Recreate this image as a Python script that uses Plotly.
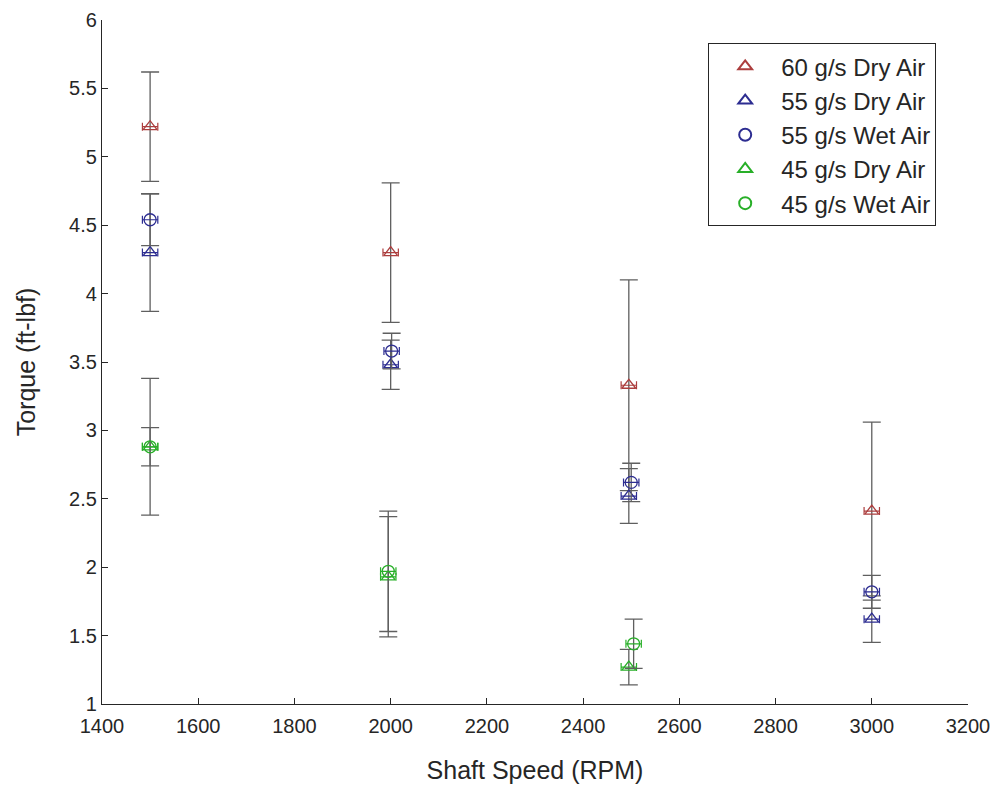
import plotly.graph_objects as go

# Data
dry60_x = [1500, 2000, 2495, 3000]
dry60_y = [5.22, 4.30, 3.33, 2.41]
dry60_e = [0.40, 0.51, 0.77, 0.65]

dry55_x = [1500, 2000, 2495, 3000]
dry55_y = [4.30, 3.48, 2.52, 1.62]
dry55_e = [0.43, 0.18, 0.20, 0.17]

wet55_x = [1500, 2002, 2500, 3000]
wet55_y = [4.54, 3.58, 2.62, 1.82]
wet55_e = [0.19, 0.13, 0.14, 0.12]

dry45_x = [1500, 1995, 2495]
dry45_y = [2.88, 1.93, 1.27]
dry45_e = [0.50, 0.44, 0.13]

wet45_x = [1500, 1995, 2505]
wet45_y = [2.88, 1.97, 1.44]
wet45_e = [0.14, 0.44, 0.18]

x_err = 16

x_ticks = list(range(1400, 3201, 200))
y_ticks = [1, 1.5, 2, 2.5, 3, 3.5, 4, 4.5, 5, 5.5, 6]
y_ticktext = ["1", "1.5", "2", "2.5", "3", "3.5", "4", "4.5", "5", "5.5", "6"]

series = [
    ("60 g/s Dry Air", dry60_x, dry60_y, dry60_e, "rgb(172,62,62)", "triangle-up-open"),
    ("55 g/s Dry Air", dry55_x, dry55_y, dry55_e, "rgb(45,45,145)", "triangle-up-open"),
    ("55 g/s Wet Air", wet55_x, wet55_y, wet55_e, "rgb(45,45,145)", "circle-open"),
    ("45 g/s Dry Air", dry45_x, dry45_y, dry45_e, "rgb(40,175,40)", "triangle-up-open"),
    ("45 g/s Wet Air", wet45_x, wet45_y, wet45_e, "rgb(40,175,40)", "circle-open"),
]

FONT = "Liberation Sans, Arial, sans-serif"
TXT = "rgb(38,38,38)"

fig = go.Figure()
for i, (name, xs, ys, es, col, sym) in enumerate(series):
    fig.add_trace(go.Scatter(
        x=xs, y=ys, mode="markers", name=name,
        marker=dict(symbol=sym, size=12, color=col, line=dict(width=1.3, color=col)),
        error_y=dict(type="data", array=es, visible=True, color="rgb(95,95,95)",
                     thickness=1.3, width=9),
        error_x=dict(type="constant", value=x_err, visible=True, color=col,
                     thickness=1.2, width=4),
    ))

axis_common = dict(
    showline=True, linecolor=TXT, linewidth=1.3,
    ticks="inside", ticklen=6, tickwidth=1.2, tickcolor=TXT,
    showgrid=False, zeroline=False, mirror=False, automargin=False,
    tickfont=dict(family=FONT, size=20, color=TXT),
)

fig.update_layout(
    width=994, height=776,
    margin=dict(l=94, r=34, t=12, b=80, autoexpand=False),
    paper_bgcolor="white", plot_bgcolor="white",
    xaxis=dict(range=[1400, 3200], tickvals=x_ticks, ticklabelstandoff=4,
               title=dict(text="Shaft Speed (RPM)", standoff=31,
                          font=dict(family=FONT, size=25, color=TXT)),
               **axis_common),
    yaxis=dict(range=[1, 6], tickvals=y_ticks, ticktext=y_ticktext,
               title=dict(text="Torque (ft-lbf)", standoff=26,
                          font=dict(family=FONT, size=25, color=TXT)),
               **axis_common),
    legend=dict(x=0.7, y=0.966, xanchor="left", yanchor="top",
                bgcolor="white", bordercolor=TXT, borderwidth=1,
                font=dict(family=FONT, size=24, color=TXT),
                itemwidth=62, itemsizing="constant"),
    showlegend=True,
)

fig.write_html("out.html")
